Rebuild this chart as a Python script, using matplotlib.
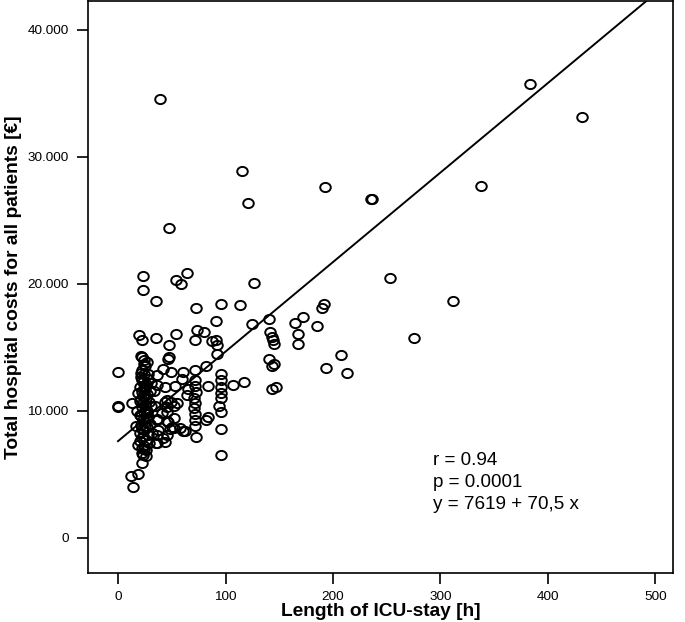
import matplotlib
matplotlib.use("Agg")
import matplotlib.pyplot as plt
import numpy as np
from matplotlib.path import Path
from matplotlib.transforms import Affine2D
from matplotlib.ticker import FuncFormatter

plt.rcParams['font.family'] = ['Liberation Sans', 'DejaVu Sans']

# ICU stay [h] and total hospital costs [EUR]
icu_hours = [
    39, 115.7, 120.7, 47.8, 192.7, 235.6, 236.5, 337.3, 383.3, 431.4,
    252.6, 311.6, 275, 23.6, 23.6, 54, 58.4, 64, 126.9, 35.1,
    72.6, 95.6, 113.6, 91, 124.5, 140.8, 165, 171.8, 185.3, 189.7,
    191.8, 167.6, 167.9, 141.2, 142.8, 144.3, 145, 140.9, 145, 143.7,
    142.8, 147.1, 207.6, 193.7, 212.9, 19.8, 22, 35.7, 53.9, 47.8,
    73.5, 80.2, 71.7, 87.7, 91.2, 91.9, 91.9, 47.8, 46.8, 22,
    26.7, 0, 42.2, 49.6, 60.5, 71.7, 82, 95.6, 95.6, 95.6,
    95.6, 95.6, 94.2, 95.6, 95.6, 95.6, 106.6, 117.5, 84.1, 71.7,
    71.2, 72.3, 70.8, 71.5, 70.5, 71.8, 71.2, 72, 72.4, 83.5,
    82.3, 59.9, 53.1, 43.8, 36, 33.8, 45.3, 49.3, 45.3, 52.4,
    34.5, 36, 45.3, 48.4, 52.4, 60.8, 42.2, 45.3, 36, 36,
    43.8, 35.4, 50, 40.7, 46.8, 52.1, 43.8, 54.6, 45.3, 57.7,
    62.4, 65.5, 63.9, 37.5, 36, 0, 0, 12.7, 12.1, 18.3,
    14.2, 22, 26, 36,
    # dense column of short stays
    18.6, 22, 24, 20, 26, 22, 28, 20, 24, 27,
    21, 25, 23, 28, 20, 24, 26, 22, 25, 29,
    21, 24, 27, 22, 25, 20, 26, 23, 28, 21,
    24, 22, 25, 24, 21, 23, 25, 21, 27, 23,
    26, 24, 22, 30, 31, 18, 17, 29, 30, 26,
    23, 28, 31, 19, 32, 24, 22, 26, 20, 25,
    23, 27, 21, 24, 22,
]
total_costs = [
    34530, 28850, 26350, 24370, 27610, 26700, 26650, 27670, 35740, 33170,
    20460, 18650, 15770, 20620, 19490, 20330, 20020, 20880, 20100, 18680,
    18100, 18400, 18310, 17100, 16840, 17230, 16920, 17420, 16660, 18130,
    18390, 16060, 15300, 16180, 15850, 15590, 15300, 14050, 13730, 13560,
    11690, 11870, 14380, 13390, 13020, 15960, 15620, 15720, 16060, 15160,
    16400, 16220, 15620, 15470, 15590, 15170, 14490, 14230, 14050, 14250,
    13860, 13030, 13270, 13100, 13070, 13230, 13520, 12900, 12450, 11870,
    11400, 10980, 10370, 9890, 8540, 6550, 12030, 12250, 11980, 12400,
    11950, 11500, 11050, 10600, 10200, 9750, 9270, 8850, 7960, 9530,
    9250, 12550, 11950, 11850, 12030, 11540, 10850, 10710, 10320, 10370,
    10380, 9400, 9220, 8540, 8670, 8450, 7900, 8100, 8100, 7440,
    7570, 7490, 8750, 9800, 9140, 9410, 10710, 10630, 9930, 8620,
    8430, 11690, 11240, 8490, 9270, 10320, 10420, 10620, 4850, 5030,
    3990, 5900, 6420, 12810,
    7310, 6680, 7000, 7600, 7700, 7900, 8100, 8300, 8500, 8700,
    8900, 9100, 9300, 9500, 9700, 9900, 10100, 10300, 10500, 10700,
    10900, 11100, 11300, 11500, 11700, 11900, 12100, 12300, 12500, 12700,
    12900, 13200, 13500, 14000, 14300, 8000, 8800, 9600, 10000, 10600,
    11000, 11800, 12400, 9000, 10400, 10000, 8800, 7500, 11600, 6900,
    6500, 12900, 12200, 11400, 8300, 7200, 8600, 9400, 10800, 12000,
    11200, 9800, 13000, 13700, 7100,
]

intercept = 7619
slope = 70.5
x_ticks = [0, 100, 200, 300, 400, 500]
y_ticks = [0, 10000, 20000, 30000, 40000]
stats_lines = ["r = 0.94", "p = 0.0001", "y = 7619 + 70,5 x"]

# slightly wide ellipse marker like the original
ellipse = Path.unit_circle().transformed(Affine2D().scale(1.15, 1.0))

fig = plt.figure(figsize=(6.85, 6.22), dpi=100)
ax = fig.add_axes([0.1285, 0.079, 0.854, 0.92])

ax.plot(icu_hours, total_costs, linestyle='none', marker=ellipse,
        markersize=7.6, markerfacecolor='none', markeredgecolor='black',
        markeredgewidth=1.4)

fit_x = np.array([0, 500])
ax.plot(fit_x, intercept + slope * fit_x, color='black', lw=1.4)

ax.set_xlim(-27.9, 516.3)
ax.set_ylim(-2750, 42300)
ax.set_xticks(x_ticks)
ax.set_yticks(y_ticks)
ax.yaxis.set_major_formatter(FuncFormatter(lambda v, p: f"{int(v):,}".replace(",", ".")))

for s in ax.spines.values():
    s.set_linewidth(1.2)
ax.tick_params(direction='out', length=8, width=1.2, labelsize=9.7, pad=6)
ax.tick_params(axis='x', pad=5)

ax.set_xlabel('Length of ICU-stay [h]', fontsize=13.8, fontweight='bold', labelpad=0)
ax.set_ylabel('Total hospital costs for all patients [€]', fontsize=13.8,
              fontweight='bold', labelpad=4)

for i, line in enumerate(stats_lines):
    ax.text(0.59, 0.188 - i * 0.0385, line, transform=ax.transAxes,
            fontsize=13.6, va='baseline', ha='left')

fig.savefig('out.png', dpi=100)
